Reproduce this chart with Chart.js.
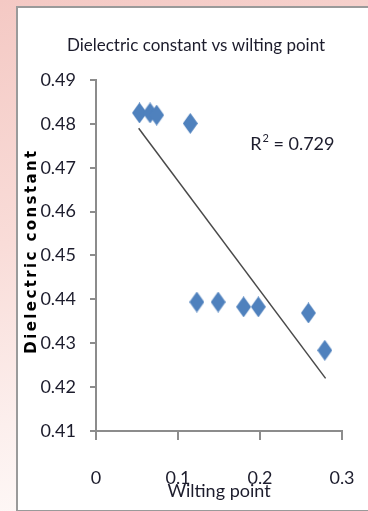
<!DOCTYPE html>
<html>
<head>
<meta charset="utf-8">
<script src="https://cdn.jsdelivr.net/npm/chart.js@4.4.0/dist/chart.umd.min.js"></script>
<style>
    html, body { margin: 0; padding: 0; }
    body {
        width: 368px; height: 511px; overflow: hidden; position: relative;
        background: linear-gradient(165deg, #f4c9c4 0%, #f9dcd8 40%, #fcefed 70%, #ffffff 100%);
    }
    .box {
        position: absolute; left: 16px; top: 6px; width: 370px; height: 502px;
        background: #fff; border: 2px solid #9a9a9a;
    }
    #chart { position: absolute; left: 0; top: 0; }
</style>
</head>
<body>
<div class="box"></div>
<canvas id="chart" width="368" height="511"></canvas>
<script>
// values
const wiltingPoint = [0.053, 0.066, 0.074, 0.115, 0.123, 0.149, 0.180, 0.198, 0.259, 0.279];
const dielectric = [0.4825, 0.4825, 0.482, 0.4801, 0.4394, 0.4394, 0.4383, 0.4383, 0.4369, 0.4284];
const trendX = [0.052, 0.280];
const trendY = [0.479, 0.422];
const xTicks = [0, 0.1, 0.2, 0.3];
const yTicks = [0.41, 0.42, 0.43, 0.44, 0.45, 0.46, 0.47, 0.48, 0.49];
const rSquared = 0.729;
const chartTitle = 'Dielectric constant vs wilting point';
const yTitle = 'Dielectric constant';

const font = 'Lato, "Open Sans", sans-serif';
const textColor = '#1c1c2c';
const axisColor = '#8c8c8c';

// tall diamond marker like the excel one
const diamond = document.createElement('canvas');
diamond.width = 15;
diamond.height = 21;
const dctx = diamond.getContext('2d');
dctx.fillStyle = '#4f81bd';
dctx.beginPath();
dctx.moveTo(7.5, 0);
dctx.lineTo(15, 10.5);
dctx.lineTo(7.5, 21);
dctx.lineTo(0, 10.5);
dctx.closePath();
dctx.fill();

const points = wiltingPoint.map((x, i) => ({ x: x, y: dielectric[i] }));
const trend = trendX.map((x, i) => ({ x: x, y: trendY[i] }));

// title sits over the white box, not over the chart area, so draw it by hand,
// same for the spaced out y title and the R^2 label
const extraText = {
    id: 'extraText',
    afterDraw(chart) {
        const ctx = chart.ctx;
        ctx.save();
        ctx.fillStyle = textColor;
        ctx.textBaseline = 'middle';
        ctx.textAlign = 'center';
        ctx.font = '17px ' + font;
        ctx.fillText(chartTitle, 196, 46);

        // y axis title, bold with loose letter spacing
        ctx.save();
        ctx.translate(32.5, 251);
        ctx.rotate(-Math.PI / 2);
        ctx.fillStyle = '#000';
        ctx.font = 'bold 15px "DejaVu Sans", sans-serif';
        ctx.letterSpacing = '2.4px';
        ctx.fillText(yTitle, 0, 0);
        ctx.restore();

        ctx.textAlign = 'left';
        const x = chart.scales.x.getPixelForValue(0.188);
        const y = chart.scales.y.getPixelForValue(0.4753);
        ctx.font = '18px ' + font;
        ctx.fillText('R', x, y);
        let w = ctx.measureText('R').width;
        ctx.font = '11px ' + font;
        ctx.fillText('2', x + w + 1, y - 6);
        w += ctx.measureText('2').width + 1;
        ctx.font = '18px ' + font;
        ctx.fillText(' = ' + rSquared, x + w, y);
        ctx.restore();
    }
};

new Chart(document.getElementById('chart'), {
    type: 'scatter',
    data: {
        datasets: [
            {
                label: 'Dielectric constant',
                data: points,
                pointStyle: diamond,
                pointRadius: 8,
                pointHoverRadius: 8
            },
            {
                label: 'Linear',
                type: 'line',
                data: trend,
                borderColor: '#4a4a4a',
                borderWidth: 1.5,
                pointRadius: 0,
                fill: false
            }
        ]
    },
    options: {
        responsive: false,
        animation: false,
        layout: { padding: { left: 0, right: 26, top: 80, bottom: 0 } },
        plugins: {
            legend: { display: false },
            tooltip: { enabled: false },
            title: { display: false }
        },
        scales: {
            x: {
                type: 'linear',
                min: 0,
                max: 0.3,
                afterBuildTicks: (scale) => { scale.ticks = xTicks.map(v => ({ value: v })); },
                afterFit: (scale) => {
                    scale.height = 80;
                    scale.paddingLeft = 0;
                    scale.paddingRight = 0;
                },
                border: { color: axisColor, width: 2 },
                grid: { drawOnChartArea: false, drawTicks: true, tickLength: 9, color: axisColor, lineWidth: 2 },
                ticks: {
                    color: textColor,
                    font: { family: font, size: 18 },
                    padding: 27,
                    callback: (v) => String(Math.round(v * 10) / 10)
                },
                title: {
                    display: true,
                    text: 'Wilting point',
                    color: textColor,
                    font: { family: font, size: 18 },
                    padding: { top: 0, bottom: 9 }
                }
            },
            y: {
                type: 'linear',
                min: 0.41,
                max: 0.49,
                afterBuildTicks: (scale) => { scale.ticks = yTicks.map(v => ({ value: v })); },
                afterFit: (scale) => {
                    scale.width = 96;
                    scale.paddingTop = 0;
                    scale.paddingBottom = 0;
                },
                border: { color: axisColor, width: 2 },
                grid: { drawOnChartArea: false, drawTicks: true, tickLength: 6, color: axisColor, lineWidth: 2 },
                ticks: {
                    color: textColor,
                    font: { family: font, size: 18 },
                    padding: 14,
                    callback: (v) => v.toFixed(2)
                },
                title: { display: false }
            }
        }
    },
    plugins: [extraText]
});
</script>
</body>
</html>
